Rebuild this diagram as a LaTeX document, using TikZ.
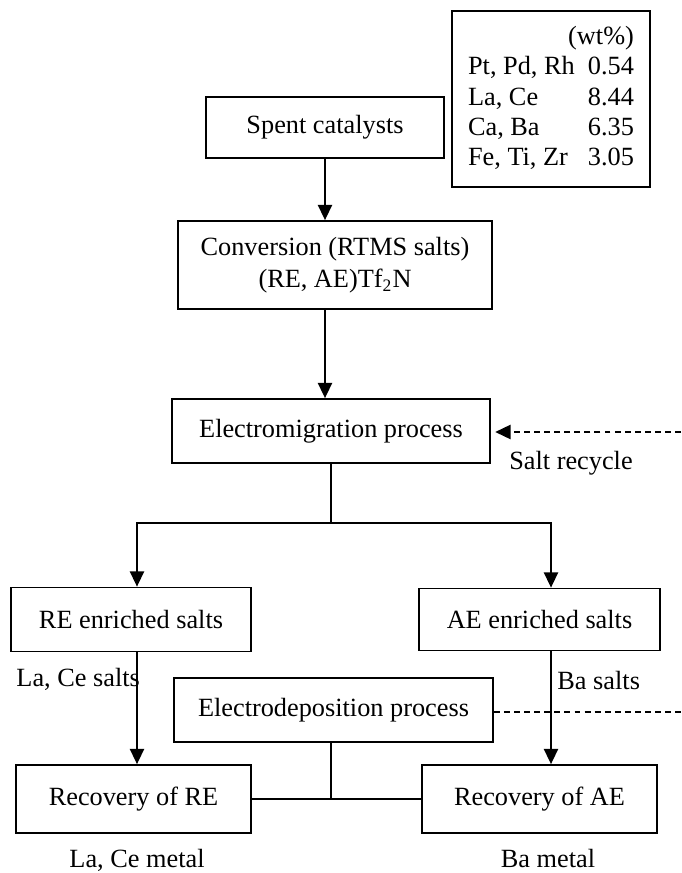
\documentclass[tikz,border=0pt,12pt]{standalone}
\usepackage{fontspec}
\setmainfont{Liberation Serif}
\usetikzlibrary{arrows.meta,positioning}
\def\pxu{0.4563pt}

\begin{document}
\begin{tikzpicture}[x=0.4563pt,y=-0.4563pt,
    box/.style={rectangle,draw,line width=0.8pt,align=center,inner sep=0pt},
    arr/.style={-{Triangle[length=7pt,width=6.5pt]},line width=0.8pt},
    plain/.style={line width=0.8pt},
    dashline/.style={line width=0.8pt,dash pattern=on 2.7pt off 1.9pt}]
  \useasboundingbox (0,0) rectangle (681,873);
  % main chain
  \node[box,minimum width=238*\pxu,minimum height=61*\pxu]
        (spent) at (325,127.5) {Spent catalysts};
  \node[box,minimum width=198*\pxu,minimum height=176*\pxu]
        (comp) at (551,99)
        {\renewcommand{\arraystretch}{0.95}%
         \begin{tabular}{@{}l@{\hspace{6pt}}r@{}}
           \multicolumn{2}{@{}r@{}}{(wt\%)}\\
           Pt, Pd, Rh & 0.54\\
           La, Ce     & 8.44\\
           Ca, Ba     & 6.35\\
           Fe, Ti, Zr & 3.05
         \end{tabular}};
  \node[box,minimum width=314*\pxu,minimum height=88*\pxu]
        (conv) at (335,265)
        {Conversion (RTMS salts)\\(RE, AE)Tf\textsubscript{2}N};
  \node[box,minimum width=318*\pxu,minimum height=64*\pxu]
        (emig) at (331,431) {Electromigration process};
  % two branches
  \node[box,minimum width=240*\pxu,minimum height=64*\pxu]
        (reenr) at (131,619.5) {RE enriched salts};
  \node[box,minimum width=241*\pxu,minimum height=62*\pxu]
        (aeenr) at (539.5,619.5) {AE enriched salts};
  \node[box,minimum width=319*\pxu,minimum height=64*\pxu]
        (edep) at (333.5,710) {Electrodeposition process};
  \node[box,minimum width=235*\pxu,minimum height=68*\pxu]
        (rerec) at (133.5,799) {Recovery of RE};
  \node[box,minimum width=235*\pxu,minimum height=68*\pxu]
        (aerec) at (539.5,799) {Recovery of AE};
  % labels
  \node (recyc) at (571,463) {Salt recycle};
  \node[anchor=west,inner sep=0pt] (lasalt) at (16,679) {La, Ce salts};
  \node[anchor=west,inner sep=0pt] (basalt) at (557,680) {Ba salts};
  \node[anchor=base,inner sep=0pt] (lametal) at (137,867) {La, Ce metal};
  \node[anchor=base,inner sep=0pt] (bametal) at (548,867) {Ba metal};
  % helper points
  \coordinate (split) at (331,523);
  \coordinate (lcol) at (137,0);
  \coordinate (rcol) at (551,0);
  \coordinate (rtop) at (681,432);
  \coordinate (rlow) at (681,712);
  % connectors
  \draw[arr] (spent) -- (spent |- conv.north);
  \draw[arr] (conv.south -| spent) -- (emig.north -| spent);
  \draw[plain] (emig.south) -- (split);
  \draw[arr] (split) -| (reenr.north -| lcol);
  \draw[arr] (split) -| (aeenr.north -| rcol);
  \draw[arr] (reenr.south -| lcol) -- (rerec.north -| lcol);
  \draw[arr] (aeenr.south -| rcol) -- (aerec.north -| rcol);
  \draw[plain] (edep.south -| split) -- (rerec.east -| split);
  \draw[plain] (rerec.east) -- (aerec.west);
  \draw[dashline] (edep.east |- rlow) -- (rlow);
  \draw[dashline,arr,shorten >=2pt] (rtop) -- (emig.east |- rtop);
\end{tikzpicture}
\end{document}
